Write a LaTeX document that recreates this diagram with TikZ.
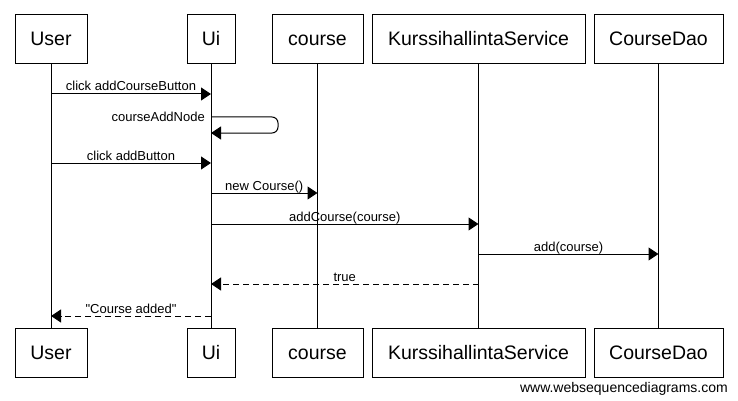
\documentclass[tikz,border=0pt]{standalone}
\usepackage{fontspec}
\setmainfont{Liberation Sans}
\newfontfamily\wsdfont{Liberation Sans}
\usetikzlibrary{arrows.meta}
\usetikzlibrary{positioning}

\tikzset{
  part/.style={draw, line width=1pt, minimum height=49pt, inner sep=0pt,
    text height=17pt, text depth=4pt,
    font=\wsdfont\fontsize{19.5}{21}\selectfont},
  life/.style={line width=1pt},
  call/.style={line width=1pt, -{Triangle[length=10pt,width=13pt]}},
  ret/.style={call, dash pattern=on 6pt off 4pt},
  lbl/.style={inner sep=0pt, anchor=base, font=\wsdfont\fontsize{13}{14}\selectfont}
}

\begin{document}
\begin{tikzpicture}[x=1pt,y=-1pt]
  \useasboundingbox (0,0) rectangle (738,401);

  \node (ut) [part, minimum width=72pt] at (51,39.5) {User};
  \node (uit) [part, minimum width=48pt] at (211,39.5) {Ui};
  \node (ct) [part, minimum width=91pt] at (317.5,39.5) {course};
  \node (kst) [part, minimum width=213pt] at (478.5,39.5) {KurssihallintaService};
  \node (cdt) [part, minimum width=129pt] at (658.5,39.5) {CourseDao};

  \node (ub) [part, minimum width=72pt] at (51,352.5) {User};
  \node (uib) [part, minimum width=48pt] at (211,352.5) {Ui};
  \node (cb) [part, minimum width=91pt] at (317.5,352.5) {course};
  \node (ksb) [part, minimum width=213pt] at (478.5,352.5) {KurssihallintaService};
  \node (cdb) [part, minimum width=129pt] at (658.5,352.5) {CourseDao};

  \draw[life] (ut) -- (ub);
  \draw[life] (uit) -- (uib);
  \draw[life] (ct) -- (cb);
  \draw[life] (kst) -- (ksb);
  \draw[life] (cdt) -- (cdb);

  \path (ut |- 0,94) coordinate (acbo);
  \path (uit |- 0,94) coordinate (acbi);
  \draw[call] (acbo) -- (acbi)
    node[lbl, midway, yshift=3pt] {click addCourseButton};

  \path (uit |- 0,117) coordinate (cano);
  \path (uit |- 0,133) coordinate (cani);
  \draw[call, rounded corners=6pt] (cano) -- ++(67,0) -- ++(0,16) -- (cani);
  \node[lbl, anchor=base east] at ([xshift=-6pt,yshift=-4.5pt]cano) {courseAddNode};

  \path (ut |- 0,163) coordinate (abo);
  \path (uit |- 0,163) coordinate (abi);
  \draw[call] (abo) -- (abi)
    node[lbl, midway, yshift=3pt] {click addButton};

  \path (uit |- 0,193) coordinate (nco);
  \path (ct |- 0,193) coordinate (nci);
  \draw[call] (nco) -- (nci)
    node[lbl, midway, yshift=3pt] {new Course()};

  \path (uit |- 0,224) coordinate (aco);
  \path (kst |- 0,224) coordinate (aci);
  \draw[call] (aco) -- (aci)
    node[lbl, midway, yshift=3pt] {addCourse(course)};

  \path (kst |- 0,254) coordinate (ado);
  \path (cdt |- 0,254) coordinate (adi);
  \draw[call] (ado) -- (adi)
    node[lbl, midway, yshift=3pt] {add(course)};

  \path (kst |- 0,284) coordinate (tro);
  \path (uit |- 0,284) coordinate (tri);
  \draw[ret] (tro) -- (tri)
    node[lbl, midway, yshift=3pt] {true};

  \path (uit |- 0,316) coordinate (cao);
  \path (ut |- 0,316) coordinate (cai);
  \draw[ret] (cao) -- (cai)
    node[lbl, midway, yshift=3pt] {"Course added"};

  \node (wsd) [inner sep=0pt, anchor=base east, font=\wsdfont\fontsize{14}{15}\selectfont]
    at (728,392) {www.websequencediagrams.com};
\end{tikzpicture}
\end{document}
